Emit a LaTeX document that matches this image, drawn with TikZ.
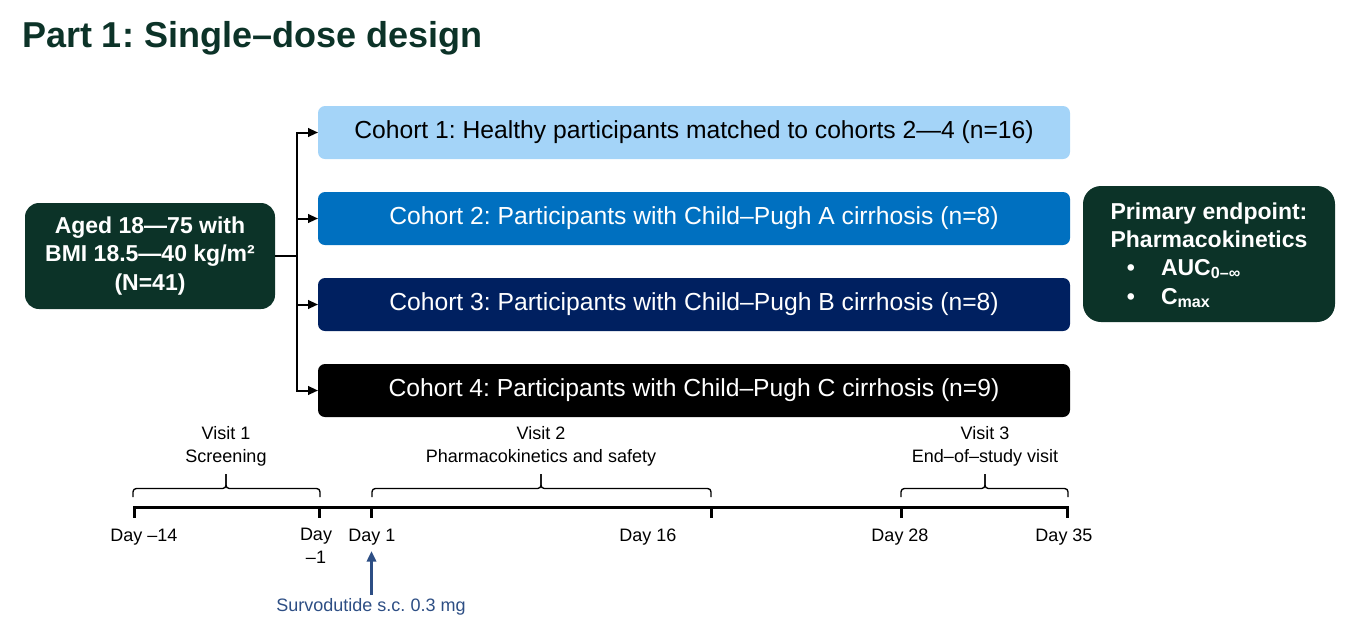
\documentclass[tikz,border=0pt]{standalone}
\usepackage{fontspec}
\setmainfont{Liberation Sans}
\usetikzlibrary{arrows.meta}
\frenchspacing
\definecolor{dg}{HTML}{0C3328}
\definecolor{cone}{HTML}{A4D4F8}
\definecolor{ctwo}{HTML}{0070C0}
\definecolor{cthree}{HTML}{002060}
\definecolor{dose}{HTML}{2D4E84}
\tikzset{
  every node/.style={inner sep=0pt, outer sep=0pt},
  cohort/.style={rounded corners=5.25pt, minimum width=564pt, minimum height=39.75pt, font=\fontsize{18.5}{22}\selectfont},
  greenbox/.style={fill=dg, text=white, font=\bfseries\fontsize{17.25}{21.4}\selectfont},
  conn/.style={line width=1.5pt, draw=black},
  arr/.style={conn, -{Triangle[length=7.5pt,width=6.5pt]}},
  small/.style={font=\fontsize{13.5}{17.25}\selectfont},
  brace/.style={line width=1pt, rounded corners=2.5pt},
  tl/.style={line width=2.25pt},
}
\begin{document}
\begin{tikzpicture}[x=0.75pt,y=-0.75pt]
\useasboundingbox (0,0) rectangle (1366,619);
% title
\node[anchor=base west, text=dg, font=\bfseries\fontsize{27}{32}\selectfont] (title) at (22,47) {Part 1: Single–dose design};
% left box
\node[greenbox, rounded corners=10.5pt, minimum width=187.5pt, minimum height=79.5pt, align=center] (pop) at (150,256) {Aged 18—75 with\\BMI 18.5—40 kg/m²\\(N=41)};
% cohorts
\node[cohort, fill=cone, text=black] (c1) at (694,132.5) {Cohort 1: Healthy participants matched to cohorts 2—4 (n=16)};
\node[cohort, fill=ctwo, text=white] (c2) at (694,218.5) {Cohort 2: Participants with Child–Pugh A cirrhosis (n=8)};
\node[cohort, fill=cthree, text=white] (c3) at (694,304.5) {Cohort 3: Participants with Child–Pugh B cirrhosis (n=8)};
\node[cohort, fill=black, text=white] (c4) at (694,390.5) {Cohort 4: Participants with Child–Pugh C cirrhosis (n=9)};
% connectors
\coordinate (br) at (297,256);
\draw[conn] (pop.east) -- (br);
\draw[arr] (br) |- (c1.west);
\draw[arr] (br) |- (c2.west);
\draw[arr] (br) |- (c3.west);
\draw[arr] (br) |- (c4.west);
% endpoint box
\node[greenbox, rounded corners=13.5pt, minimum width=189pt, minimum height=102pt] (ep) at (1209,254) {};
\node[greenbox, fill=none, anchor=base] (ep1) at (1209,219.5) {Primary endpoint:};
\node[greenbox, fill=none, anchor=base] (ep2) at (1209,247) {Pharmacokinetics};
\node[greenbox, fill=none, anchor=base] (b1) at (1131,275) {•};
\node[greenbox, fill=none, anchor=base west] (ep3) at (1161,275) {AUC\textsubscript{0–∞}};
\node[greenbox, fill=none, anchor=base] (b2) at (1131,304) {•};
\node[greenbox, fill=none, anchor=base west] (ep4) at (1161,304) {C\textsubscript{max}};
% timeline
\coordinate (dA) at (134.5,507);
\coordinate (dB) at (319.5,507);
\coordinate (dC) at (371.5,507);
\coordinate (dD) at (711.5,507);
\coordinate (dE) at (901,507);
\coordinate (dF) at (1067.5,507);
\draw[tl] (133,507) -- (1069,507);
\foreach \d in {dA,dB,dC,dD,dE,dF} \draw[tl] (\d) -- ++(0,11);
\node[small, anchor=base] (lA) at (144,541) {Day –14};
\node[small, anchor=base, align=center] (lB) at (316,563) {Day\\–1};
\node[small, anchor=base] (lC) at (372,541) {Day 1};
\node[small, anchor=base] (lD) at (648,541) {Day 16};
\node[small, anchor=base] (lE) at (900,541) {Day 28};
\node[small, anchor=base] (lF) at (1064,541) {Day 35};
% braces
\foreach \a/\m/\b in {133/226/320, 372/541/711, 901/985/1068}{
  \draw[brace] (\a,497) -- (\a,488.5) -- (\m,488.5) -- (\m,474);
  \draw[brace] (\b,497) -- (\b,488.5) -- (\m,488.5) -- (\m,474);
}
\node[small, anchor=base, align=center] (v1) at (226,462) {Visit 1\\Screening};
\node[small, anchor=base, align=center] (v2) at (541,462) {Visit 2\\Pharmacokinetics and safety};
\node[small, anchor=base, align=center] (v3) at (985,462) {Visit 3\\End–of–study visit};
% dose
\node[small, anchor=base, text=dose] (dosetxt) at (371,611) {Survodutide s.c. 0.3 mg};
\coordinate (dosetail) at (371.5,595);
\coordinate (dosetip) at (371.5,551);
\draw[line width=1.9pt, draw=dose, -{Triangle[length=8pt,width=7pt]}] (dosetail) -- (dosetip);
\end{tikzpicture}
\end{document}
